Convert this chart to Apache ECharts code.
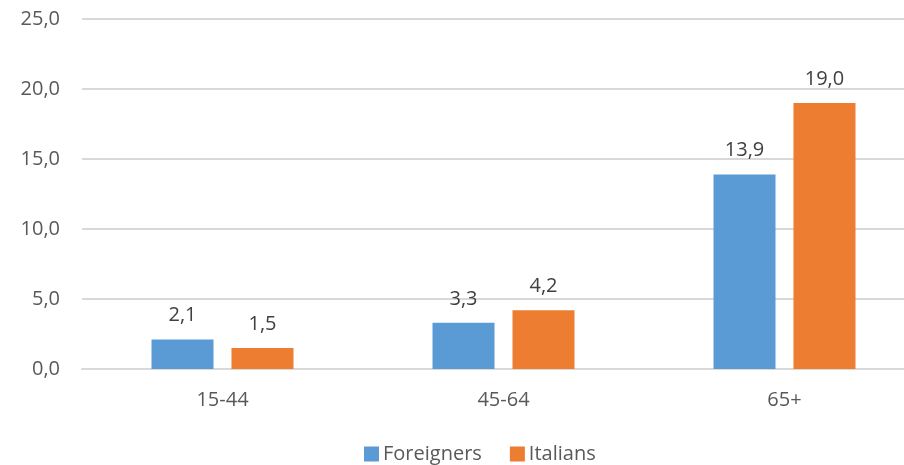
<!DOCTYPE html>
<html>
<head>
<meta charset="utf-8">
<script src="https://cdn.jsdelivr.net/npm/echarts@6/dist/echarts.min.js"></script>
<style>
  html, body { margin: 0; padding: 0; background: #fff; overflow: hidden; width: 904px; height: 465px; }
  /* canvas is a bit wider than the window so the plot area runs past its right edge */
  #chart { width: 925px; height: 465px; }
</style>
</head>
<body>
<div id="chart"></div>
<script>
// Age groups and rates per group
const categories = ['15-44', '45-64', '65+'];
const foreigners = [2.1, 3.3, 13.9];
const italians = [1.5, 4.2, 19.0];
const seriesNames = ['Foreigners', 'Italians'];

const fmt = v => v.toFixed(1).replace('.', ',');
const FONT = '"Open Sans", sans-serif';
const TEXT = '#595959';

const chart = echarts.init(document.getElementById('chart'), null, { renderer: 'canvas' });

const labelCfg = {
  show: true,
  position: 'top',
  distance: 14,
  color: '#404040',
  fontFamily: FONT,
  fontSize: 20,
  formatter: p => fmt(p.value)
};

chart.setOption({
  animation: false,
  grid: { left: 82, top: 19, right: 0, bottom: 96, containLabel: false },
  legend: {
    data: seriesNames,
    left: 359,
    bottom: -4,
    itemWidth: 15,
    itemHeight: 15,
    itemGap: 28,
    icon: 'rect',
    textStyle: { color: TEXT, fontFamily: FONT, fontSize: 20, padding: [0, 0, 0, -1] }
  },
  xAxis: {
    type: 'category',
    data: categories,
    axisLine: { show: true, lineStyle: { color: '#D9D9D9', width: 2 } },
    axisTick: { show: false },
    axisLabel: { color: TEXT, fontFamily: FONT, fontSize: 20, margin: 21 }
  },
  yAxis: {
    type: 'value',
    min: 0,
    max: 25,
    interval: 5,
    axisLine: { show: false },
    axisTick: { show: false },
    splitLine: { lineStyle: { color: '#D9D9D9', width: 2 } },
    axisLabel: { color: TEXT, fontFamily: FONT, fontSize: 20, margin: 22, formatter: v => fmt(v) }
  },
  series: [
    {
      name: seriesNames[0],
      type: 'bar',
      data: foreigners,
      barWidth: 62,
      barGap: '29%',
      itemStyle: { color: '#5B9BD5' },
      label: labelCfg
    },
    {
      name: seriesNames[1],
      type: 'bar',
      data: italians,
      barWidth: 62,
      barGap: '29%',
      itemStyle: { color: '#ED7D31' },
      label: labelCfg
    }
  ]
});
</script>
</body>
</html>
